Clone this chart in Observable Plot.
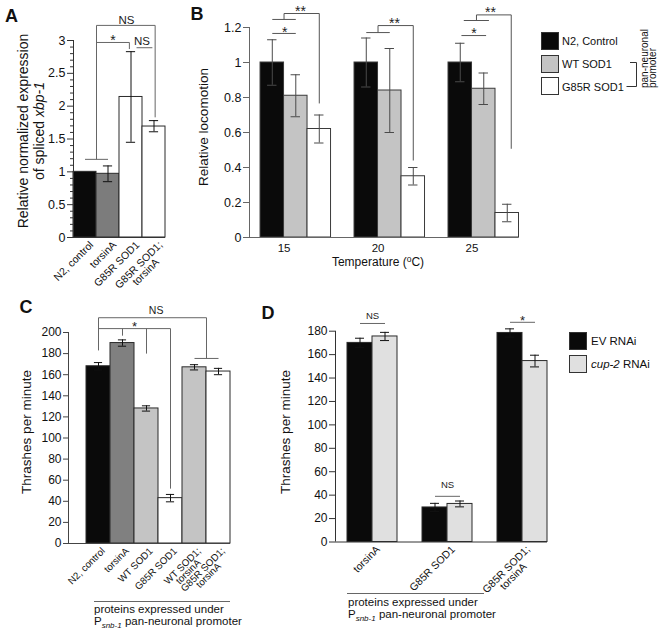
<!DOCTYPE html>
<html>
<head>
<meta charset="utf-8">
<script src="https://cdn.jsdelivr.net/npm/d3@7"></script>
<script src="https://cdn.jsdelivr.net/npm/@observablehq/plot@0.6"></script>
<style>
html,body{margin:0;padding:0;background:#fff;}
#fig{position:relative;width:664px;height:632px;overflow:hidden;font-family:"Liberation Sans",Arial,Helvetica,sans-serif;color:#111;}
.abs{position:absolute;white-space:nowrap;}
.letter{font-weight:bold;font-size:18px;line-height:18px;transform:translate(-50%,-50%);}
.ytitle{font-size:13.5px;line-height:15px;transform:translate(-50%,-50%) rotate(-90deg);}
.xtitle{font-size:12px;line-height:14px;transform:translate(-50%,-50%);}
.sw{position:absolute;width:18px;height:18px;border:1px solid #333;box-sizing:border-box;}
.leg{position:absolute;font-size:11.5px;line-height:14px;white-space:nowrap;transform:translateY(-50%);}
.cap{position:absolute;font-size:11.5px;line-height:12px;white-space:nowrap;}
.sub{font-size:8px;font-style:italic;position:relative;top:3px;}
.uline{position:absolute;height:0;border-top:1px solid #666;}
</style>
</head>
<body>
<div id="fig"></div>
<script>
// ================= DATA =================
// Panel A: relative normalized expression of spliced xbp-1
const aCategories = ["N2, control", "torsinA", "G85R SOD1", "G85R SOD1;\ntorsinA"];
const aValues = [1.0, 0.97, 2.14, 1.69];
const aErrLow = [null, 0.85, 1.45, 1.61];
const aErrHigh = [null, 1.09, 2.83, 1.78];
const aYTicks = [0, 0.5, 1, 1.5, 2, 2.5, 3];

// Panel B: relative locomotion by temperature
const bTemperatures = ["15", "20", "25"];
const bSeries = ["N2, Control", "WT SOD1", "G85R SOD1"];
const bMeans = [[1.0, 0.81, 0.62], [1.0, 0.84, 0.35], [1.0, 0.85, 0.14]];
const bErrLow = [[0.87, 0.69, 0.54], [0.86, 0.60, 0.30], [0.89, 0.76, 0.09]];
const bErrHigh = [[1.13, 0.93, 0.70], [1.14, 1.08, 0.40], [1.11, 0.94, 0.19]];
const bYTicks = [0, 0.2, 0.4, 0.6, 0.8, 1, 1.2];

// Panel C: thrashes per minute
const cCategories = ["N2, control", "torsinA", "WT SOD1", "G85R SOD1", "WT SOD1;\ntorsinA", "G85R SOD1;\ntorsinA"];
const cValues = [168, 190, 128, 43, 167, 163];
const cErr = [3.5, 3, 2.5, 3.5, 2.5, 3];
const cYTicks = [0, 20, 40, 60, 80, 100, 120, 140, 160, 180, 200];

// Panel D: thrashes per minute with RNAi
const dGroups = ["torsinA", "G85R SOD1", "G85R SOD1;\ntorsinA"];
const dSeries = ["EV RNAi", "cup-2 RNAi"];
const dMeans = [[170, 175.5], [29.5, 32.5], [178.5, 154.5]];
const dErr = [[4, 3.5], [3.5, 2.5], [3.5, 5]];
const dYTicks = [0, 20, 40, 60, 80, 100, 120, 140, 160, 180];

// Significance brackets (polylines in data units) and their labels
const aBrackets = [
  [[0.5, 1.19], [1.5, 1.19]],
  [[1.0, 1.19], [1.0, 3.23], [3.55, 3.23], [3.55, 1.83]],
  [[1.0, 2.97], [2.43, 2.97], [2.43, 2.87]],
  [[2.74, 2.89], [3.43, 2.89]]
];
const aNS = [{x: 2.3, y: 3.30, t: "NS"}, {x: 2.98, y: 2.99, t: "NS"}];
const aStars = [{x: 1.72, y: 3.06, t: "*"}];

const bBrackets = [
  [[0.5, 1.166], [1.5, 1.166]],
  [[0.5, 1.246], [1.5, 1.246]],
  [[1.0, 1.246], [1.0, 1.28], [2.5, 1.28], [2.5, 0.766]],
  [[4.5, 1.171], [5.5, 1.171]],
  [[5.0, 1.171], [5.0, 1.211], [6.5, 1.211], [6.5, 0.44]],
  [[8.55, 1.154], [9.6, 1.154]],
  [[8.65, 1.24], [9.72, 1.24]],
  [[9.19, 1.24], [9.19, 1.272], [10.67, 1.272], [10.67, 0.507]]
];
const bStars = [
  {x: 1.03, y: 1.193, t: "*"}, {x: 1.70, y: 1.312, t: "**"},
  {x: 5.70, y: 1.24, t: "**"},
  {x: 9.08, y: 1.187, t: "*"}, {x: 9.79, y: 1.307, t: "**"}
];

const cBrackets = [
  [[0.5, 183], [0.5, 214], [5.0, 214], [5.0, 175.4]],
  [[4.5, 175.4], [5.5, 175.4]],
  [[0.5, 203.7], [3.5, 203.7], [3.5, 52]],
  [[1.5, 203.7], [1.5, 197]],
  [[2.5, 203.7], [2.5, 180]]
];
const cNS = [{x: 2.9, y: 221, t: "NS"}];
const cStars = [{x: 2.0, y: 208.5, t: "*"}];

const dBrackets = [
  [[0.5, 186.6], [1.5, 186.6]],
  [[3.5, 39], [4.5, 39]],
  [[6.5, 187.6], [7.5, 187.6]]
];
const dNS = [{x: 1.0, y: 192.6, t: "NS"}, {x: 4.0, y: 49.1, t: "NS"}];
const dStars = [{x: 7.0, y: 191.7, t: "*"}];

// ================= STYLES =================
const FONT = '"Liberation Sans", Arial, Helvetica, sans-serif';
const aFills = ["#0a0a0a", "#7c7c7c", "#ffffff", "#ffffff"];
const bFills = ["#0a0a0a", "#c4c4c4", "#ffffff"];
const cFills = ["#0a0a0a", "#808080", "#c4c4c4", "#ffffff", "#c4c4c4", "#ffffff"];
const dFills = ["#0a0a0a", "#e0e0e0"];

// ================= HELPERS =================
const fig = document.getElementById("fig");
const ctx = document.createElement("canvas").getContext("2d");
function textWidth(s, size) { ctx.font = `${size}px ${FONT}`; return ctx.measureText(s).width; }
function segments(polys) {
  const out = [];
  for (const p of polys) for (let i = 1; i < p.length; i++) out.push({x1: p[i-1][0], y1: p[i-1][1], x2: p[i][0], y2: p[i][1]});
  return out;
}
function rotatedLabels(labels, size, pad, lineHeight = 0.95) {
  return labels.map(l => {
    const first = l.text.split("\n")[0];
    const h = textWidth(first, size) / 2 * Math.SQRT1_2;
    return Plot.text([l], {x: "x", text: "text", frameAnchor: "bottom", rotate: -45, textAnchor: "middle",
      lineAnchor: "top", lineHeight, fontSize: size, fill: "#111", dx: -h + pad[0], dy: h + pad[1]});
  });
}
function barPanel(c) {
  const [x0, x1] = c.xDomain, [y0, y1] = c.yDomain;
  const marks = [
    Plot.rectY(c.bars, {x1: "x1", x2: "x2", y: "value", fill: "fill", stroke: c.barStroke, strokeWidth: 1}),
    Plot.ruleX(c.errs, {x: "xc", y1: "lo", y2: "hi", stroke: c.errColor, strokeWidth: 1}),
    Plot.ruleY(c.errs, {x1: d => d.xc - c.cap, x2: d => d.xc + c.cap, y: "lo", stroke: c.errColor, strokeWidth: 1}),
    Plot.ruleY(c.errs, {x1: d => d.xc - c.cap, x2: d => d.xc + c.cap, y: "hi", stroke: c.errColor, strokeWidth: 1}),
    Plot.ruleY([y0], {x1: x0, x2: x1, stroke: c.axisColor}),
    Plot.ruleX([x0], {y1: y0, y2: y1, stroke: c.axisColor}),
    c.yMinor ? Plot.ruleY(c.yMinor, {x1: x0 - c.minorLen, x2: x0, stroke: c.axisColor, strokeWidth: 1}) : null,
    Plot.axisY(c.yTicks, {tickSize: c.tickSize, tickPadding: 2, tickFormat: d => String(d), fontSize: c.tickFont,
      stroke: c.axisColor, fill: "#111", label: null}),
    Plot.link(segments(c.brackets), {x1: "x1", y1: "y1", x2: "x2", y2: "y2", stroke: c.bracketColor, strokeWidth: 1}),
    Plot.text(c.ns || [], {x: "x", y: "y", text: "t", fontSize: c.nsFont, fill: "#222"}),
    Plot.text(c.stars || [], {x: "x", y: "y", text: "t", fontSize: c.starFont, fill: "#222", dy: c.starFont * 0.25}),
    ...(c.xMarks || [])
  ];
  const svg = Plot.plot({
    width: c.width, height: c.height,
    marginLeft: c.margin[3], marginRight: c.margin[1], marginTop: c.margin[0], marginBottom: c.margin[2],
    x: {domain: c.xDomain, axis: null},
    y: {domain: c.yDomain, axis: null, label: null},
    color: {type: "identity"},
    style: {fontFamily: FONT, fontSize: "12px", background: "transparent", overflow: "visible", color: "#111"},
    marks: marks.filter(Boolean)
  });
  svg.style.position = "absolute";
  svg.style.left = c.left + "px";
  svg.style.top = c.top + "px";
  svg.style.maxWidth = "none";
  fig.append(svg);
  return svg;
}
function addDiv(cls, left, top, html, extra) {
  const d = document.createElement("div");
  d.className = cls; d.style.left = left + "px"; d.style.top = top + "px";
  d.innerHTML = html; if (extra) Object.assign(d.style, extra);
  fig.append(d); return d;
}

// ================= PANEL A =================
const aBars = aCategories.map((cat, i) => ({x1: i, x2: i + 1, value: aValues[i], fill: aFills[i]}));
const aErrs = aCategories.map((cat, i) => ({xc: i + 0.5, lo: aErrLow[i], hi: aErrHigh[i]})).filter(d => d.lo != null);
barPanel({
  left: 0, top: 0, width: 170, height: 290, margin: [40, 5, 53, 73],
  xDomain: [0, 4], yDomain: [0, 3],
  bars: aBars, errs: aErrs, cap: 0.2, barStroke: "#2a2a2a", errColor: "#111", axisColor: "#333",
  yTicks: aYTicks, yMinor: d3.ticks(0, 3, 30).filter(v => Math.abs(v * 2 - Math.round(v * 2)) > 1e-6), minorLen: 3 / 23,
  tickSize: 6, tickFont: 12.5,
  brackets: aBrackets, bracketColor: "#666", ns: aNS, stars: aStars, nsFont: 11.5, starFont: 14,
  xMarks: rotatedLabels(aCategories.map((t, i) => ({x: i + 0.5, text: t})), 10.5, [4, 3])
});

// ================= PANEL B =================
const bBars = [], bErrs = [];
bTemperatures.forEach((t, g) => bSeries.forEach((s, k) => {
  const x = 4 * g + k;
  bBars.push({x1: x, x2: x + 1, value: bMeans[g][k], fill: bFills[k]});
  bErrs.push({xc: x + 0.5, lo: bErrLow[g][k], hi: bErrHigh[g][k]});
}));
barPanel({
  left: 170, top: 0, width: 360, height: 275, margin: [27, 11.5, 38, 79],
  xDomain: [-0.47, 11], yDomain: [0, 1.2],
  bars: bBars, errs: bErrs, cap: 0.2, barStroke: "#3a3a3a", errColor: "#4a4a4a", axisColor: "#666",
  yTicks: bYTicks, tickSize: 6, tickFont: 12.5,
  brackets: bBrackets, bracketColor: "#555", stars: bStars, starFont: 14,
  xMarks: [Plot.axisX(bTemperatures.map((t, g) => 4 * g + 1), {tickSize: 0, tickPadding: 6.5, fontSize: 11.5,
    tickFormat: d => bTemperatures[(d - 1) / 4], fill: "#111", label: null})]
});

// ================= PANEL C =================
const cBars = cCategories.map((cat, i) => ({x1: i, x2: i + 1, value: cValues[i], fill: cFills[i]}));
const cErrs = cCategories.map((cat, i) => ({xc: i + 0.5, lo: cValues[i] - cErr[i], hi: cValues[i] + cErr[i]}));
barPanel({
  left: 0, top: 290, width: 250, height: 310, margin: [42, 20, 57, 68],
  xDomain: [-0.75, 6], yDomain: [0, 200],
  bars: cBars, errs: cErrs, cap: 0.17, barStroke: "#2a2a2a", errColor: "#111", axisColor: "#444",
  yTicks: cYTicks, tickSize: 5, tickFont: 12,
  brackets: cBrackets, bracketColor: "#666", ns: cNS, stars: cStars, nsFont: 10.5, starFont: 13,
  xMarks: rotatedLabels(cCategories.map((t, i) => ({x: i + 0.5, text: t})), 9.8, [3, 4], 0.82)
});

// ================= PANEL D =================
const dBars = [], dErrs = [];
dGroups.forEach((gname, g) => dSeries.forEach((s, k) => {
  const x = 3 * g + k;
  dBars.push({x1: x, x2: x + 1, value: dMeans[g][k], fill: dFills[k]});
  dErrs.push({xc: x + 0.5, lo: dMeans[g][k] - dErr[g][k], hi: dMeans[g][k] + dErr[g][k]});
}));
barPanel({
  left: 250, top: 290, width: 300, height: 300, margin: [40.7, 3, 48.5, 85],
  xDomain: [-0.48, 8], yDomain: [0, 180],
  bars: dBars, errs: dErrs, cap: 0.18, barStroke: "#2a2a2a", errColor: "#111", axisColor: "#333",
  yTicks: dYTicks, tickSize: 6, tickFont: 12,
  brackets: dBrackets, bracketColor: "#666", ns: dNS, stars: dStars, nsFont: 9.5, starFont: 13,
  xMarks: rotatedLabels(dGroups.map((t, g) => ({x: 3 * g + 1, text: t})), 10.5, [3, 3])
});

// ================= TEXT DECORATIONS =================
addDiv("abs letter", 11.5, 16, "A");
addDiv("abs letter", 197, 14, "B");
addDiv("abs letter", 26, 307, "C");
addDiv("abs letter", 268, 313, "D");

addDiv("abs ytitle", 23, 131, "Relative normalized expression", {fontSize: "14px"});
addDiv("abs ytitle", 38.5, 131, "of spliced <i>xbp-1</i>", {fontSize: "14px"});
addDiv("abs ytitle", 202.5, 127, "Relative locomotion");
addDiv("abs ytitle", 26, 432, "Thrashes per minute");
addDiv("abs ytitle", 285, 432, "Thrashes per minute");
addDiv("abs xtitle", 378, 262, 'Temperature (<span style="font-size:8.5px;position:relative;top:-4px">o</span>C)');

// Legend B
bSeries.forEach((s, k) => {
  const sw = addDiv("sw", 541, 32 + 22.7 * k, "");
  sw.style.background = bFills[k];
  addDiv("leg", 562, 41 + 22.9 * k, s, {fontSize: "11px"});
});
addDiv("abs", 624, 60, '<svg width="16" height="30" style="overflow:visible"><path d="M6,2.5H12.5V26.5H2.5" fill="none" stroke="#333" stroke-width="1"/></svg>');
addDiv("abs", 641, 88, "pan-neuronal<br>promoter", {fontSize: "10px", lineHeight: "7.6px", transformOrigin: "0 0", transform: "rotate(-90deg)"});

// Legend D
dSeries.forEach((s, k) => {
  const sw = addDiv("sw", 569, 332 + 23 * k, "");
  sw.style.background = dFills[k];
  addDiv("leg", 591, 341 + 23 * k, k === 1 ? "<i>cup-2</i> RNAi" : s);
});

// Captions
addDiv("uline", 94, 601, "", {width: "136px"});
addDiv("cap", 94, 602.5, 'proteins expressed under<br>P<span class="sub">snb-1</span> pan-neuronal promoter');
addDiv("uline", 347, 593, "", {width: "137px"});
addDiv("cap", 348, 596, 'proteins expressed under<br>P<span class="sub">snb-1</span> pan-neuronal promoter');
</script>
</body>
</html>
